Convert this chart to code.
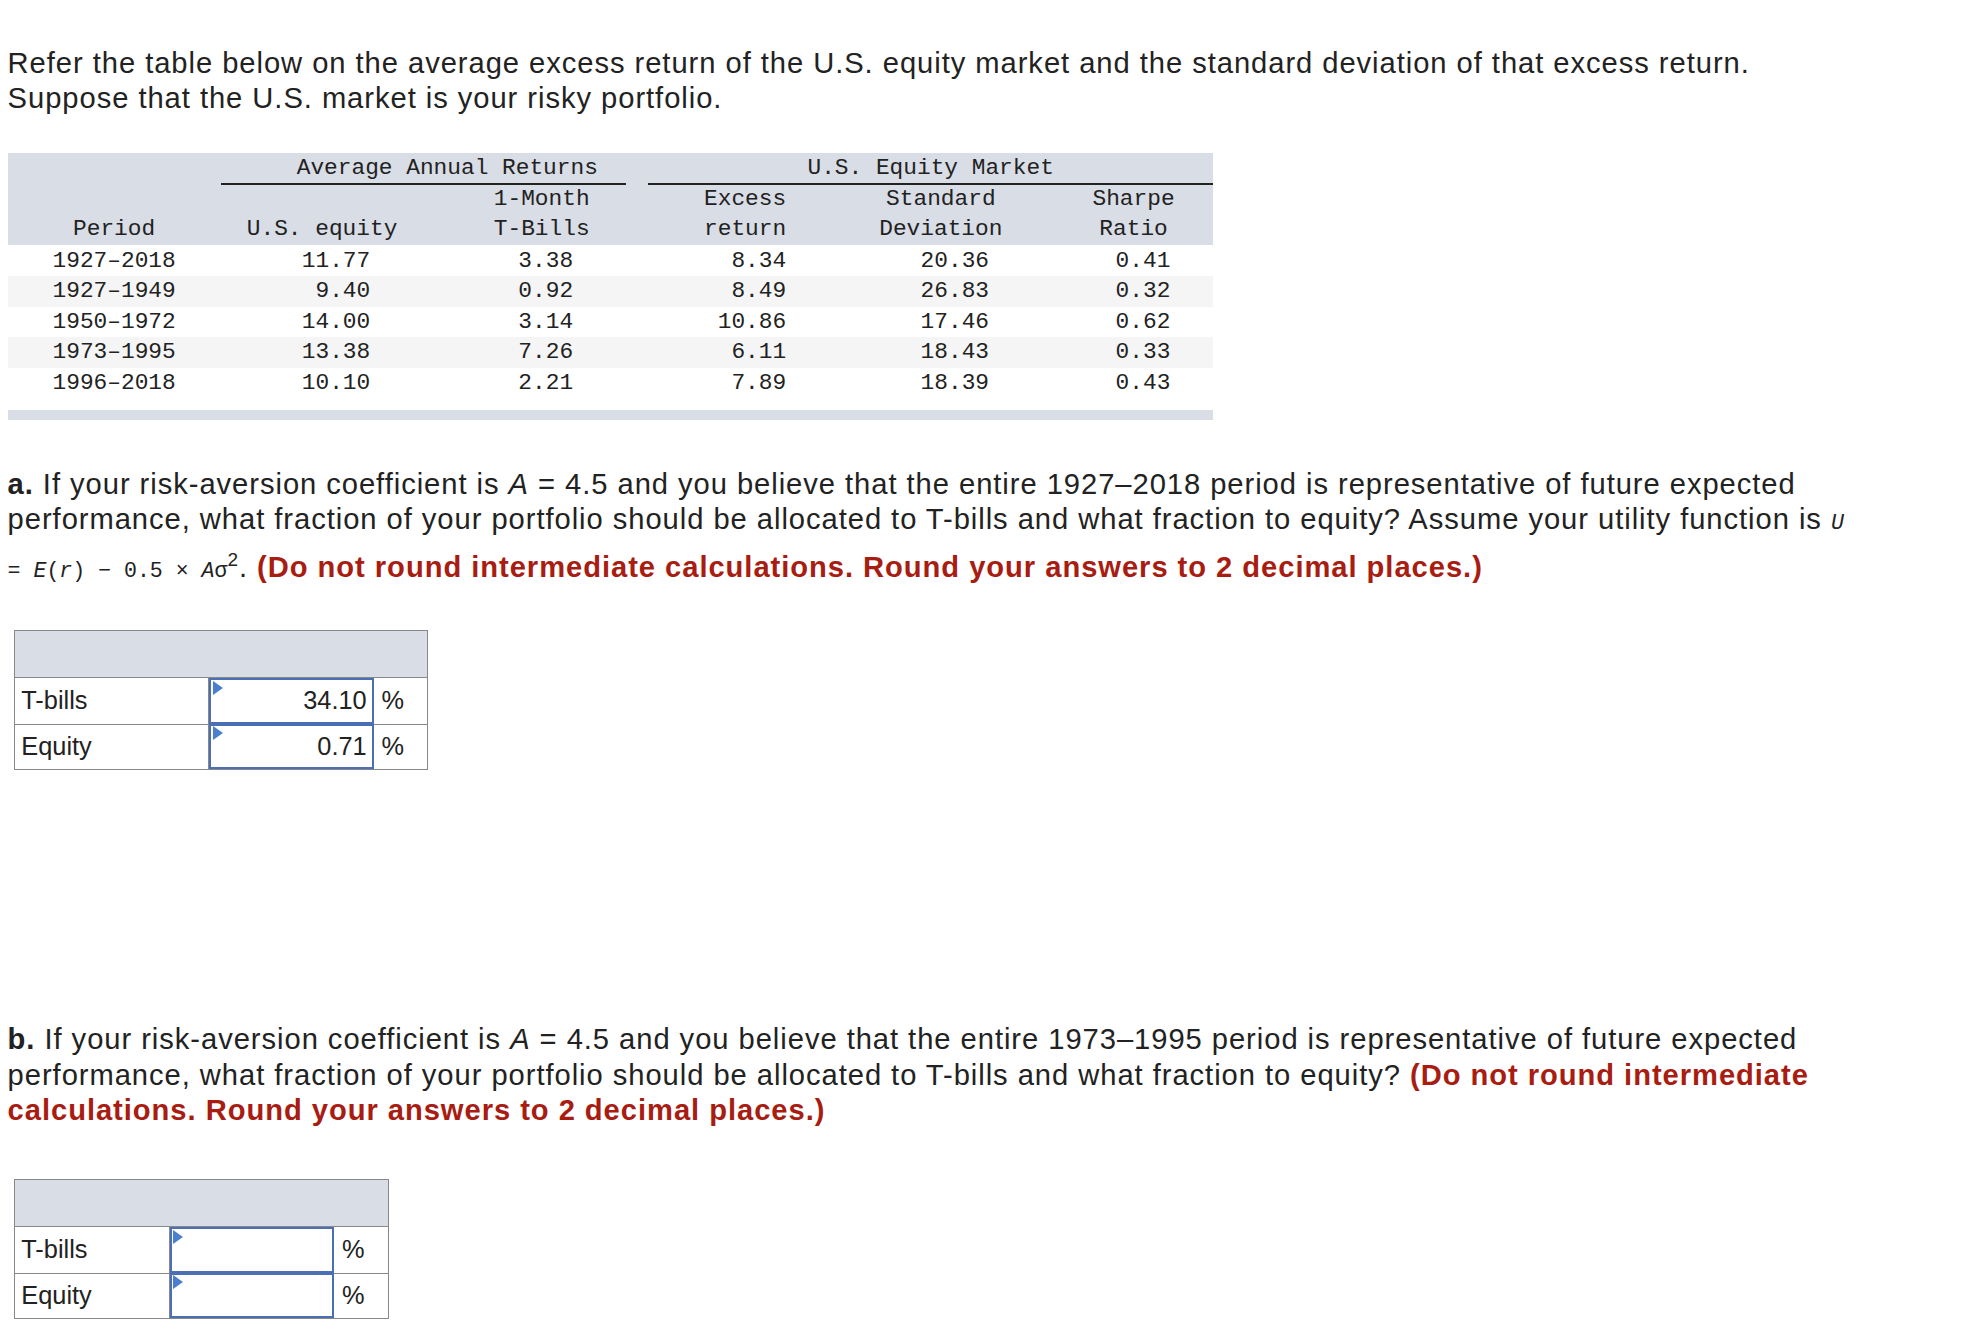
<!DOCTYPE html>
<html><head><meta charset="utf-8">
<script src="https://cdn.jsdelivr.net/npm/chart.js@4"></script>
<style>
html,body{margin:0;background:#fff}
body{zoom:1.268;font-family:"Liberation Sans",Arial,sans-serif;color:#222;font-size:22px;position:relative;width:1560px;height:1056px}
.abs{position:absolute}
p{margin:0;line-height:28px;font-size:23px;letter-spacing:0.75px;white-space:nowrap}
.red{color:#a81c12;font-weight:bold}
.mono{font-family:"Liberation Mono",monospace;letter-spacing:0}
#tbl{left:6px;top:121px;width:951px;height:210px;font-family:"Liberation Mono",monospace;font-size:18px}
.cell{position:absolute;line-height:24px;white-space:nowrap}
.ans{position:absolute;border:1px solid #888;font-size:20px}
.ans div{position:absolute;box-sizing:border-box}
</style></head><body>
<p class="abs" style="left:6px;top:36px">Refer the table below on the average excess return of the U.S. equity market and the standard deviation of that excess return.<br>Suppose that the U.S. market is your risky portfolio.</p>
<div id="tbl" class="abs"></div>
<p class="abs" style="left:6px;top:368px">
<b>a.</b> If your risk-aversion coefficient is <i>A</i> = 4.5 and you believe that the entire 1927–2018 period is representative of future expected<br>performance, what fraction of your portfolio should be allocated to T-bills and what fraction to equity? Assume your utility function is <span class="mono" style="font-size:17px"><i>U</i></span><br><span class="mono" style="font-size:17px">= <i>E</i>(<i>r</i>) − 0.5 × <i>A</i>σ</span><sup style="font-size:15px">2</sup>. <span class="red">(Do not round intermediate calculations. Round your answers to 2 decimal places.)</span></p>
<div id="ansA"></div>
<p class="abs" style="left:6px;top:806px">
<b>b.</b> If your risk-aversion coefficient is <i>A</i> = 4.5 and you believe that the entire 1973–1995 period is representative of future expected<br>performance, what fraction of your portfolio should be allocated to T-bills and what fraction to equity? <span class="red">(Do not round intermediate<br>calculations. Round your answers to 2 decimal places.)</span></p>
<div id="ansB"></div>
<script>
const periods = ['1927–2018','1927–1949','1950–1972','1973–1995','1996–2018'];
const usEquity = ['11.77','9.40','14.00','13.38','10.10'];
const tBills = ['3.38','0.92','3.14','7.26','2.21'];
const excessReturn = ['8.34','8.49','10.86','6.11','7.89'];
const stdDev = ['20.36','26.83','17.46','18.43','18.39'];
const sharpe = ['0.41','0.32','0.62','0.33','0.43'];
const answerLabels = ['T-bills','Equity'];
const answersA = ['34.10','0.71'];
const answersB = ['',''];

const t = document.getElementById('tbl');
function add(txt, x, y, align){
  const d = document.createElement('div'); d.className='cell'; d.textContent=txt;
  d.style.top = y+'px';
  if(align==='r'){d.style.right=(951-x)+'px';} else if(align==='c'){d.style.left=(x-100)+'px';d.style.width='200px';d.style.textAlign='center';} else d.style.left=x+'px';
  t.appendChild(d);
}
function box(x,y,w,h,c){const d=document.createElement('div');Object.assign(d.style,{position:'absolute',left:x+'px',top:y+'px',width:w+'px',height:h+'px',background:c});t.appendChild(d);}
box(0,0,951,72,'#d9dde6');
for(let i=0;i<5;i++) if(i%2) box(0,73+i*24,951,24,'#f5f5f5');
box(0,202,951,8,'#d9dde6');
box(168,23,320,2,'#222'); box(505,23,446,2,'#222');
add('Average Annual Returns',328,0,'c');
add('U.S. Equity Market',728,0,'c');
add('1-Month',459,24,'r'); add('T-Bills',459,48,'r');
add('Excess',614,24,'r'); add('return',614,48,'r');
add('Standard',736,24,'c'); add('Deviation',736,48,'c');
add('Sharpe',888,24,'c'); add('Ratio',888,48,'c');
add('Period',84,48,'c'); add('U.S. equity',248,48,'c');
const cols=[[usEquity,286],[tBills,446],[excessReturn,614],[stdDev,774],[sharpe,917]];
periods.forEach((p,i)=>{
  const y=73+i*24;
  add(p,84,y,'c');
  cols.forEach(([arr,x])=>add(arr[i],x,y,'r'));
});

function answerTable(id, top, labW, inW, vals){
  const wrap=document.getElementById(id);
  const W=labW+inW+42, tbl=document.createElement('div');
  tbl.className='ans'; Object.assign(tbl.style,{left:'11px',top:top+'px',width:W+'px',height:'109px'});
  tbl.innerHTML='<div style="left:0;top:0;width:100%;height:37px;background:#d9dde6;border-bottom:1px solid #888"></div>';
  answerLabels.forEach((l,i)=>{
    const y=37+i*36;
    tbl.innerHTML+=`<div style="left:0;top:${y}px;width:${labW}px;height:36px;border-top:${i?'1px solid #888':'0'};border-right:1px solid #888;padding:6px 5px">${l}</div>`+
    `<div style="left:${labW}px;top:${y}px;width:${inW}px;height:36px;border:2px solid #4a6fb5;text-align:right;padding:5px 4px">${vals[i]}</div>`+
    `<div style="left:${labW+3}px;top:${y+2}px;width:0;height:0;border-top:6px solid transparent;border-bottom:6px solid transparent;border-left:8px solid #4a7fd0"></div>`+
    `<div style="left:${labW+inW}px;top:${y}px;width:42px;height:36px;border-top:${i?'1px solid #888':'0'};padding:6px 6px">%</div>`;
  });
  wrap.appendChild(tbl);
}
answerTable('ansA',497,153,130,answersA);
answerTable('ansB',930,122,130,answersB);
</script>
</body></html>
